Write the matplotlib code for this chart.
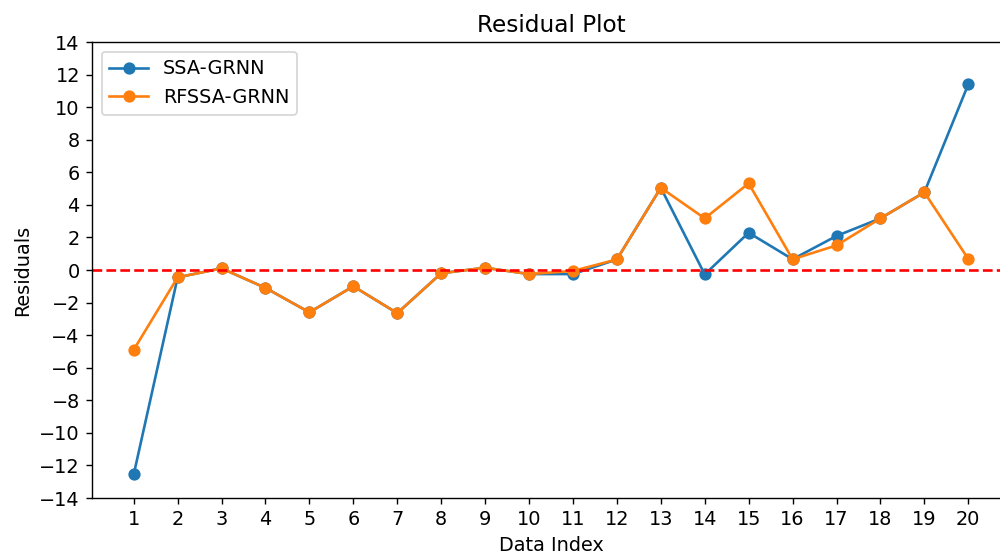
import numpy as np
import matplotlib
matplotlib.use("Agg")
import matplotlib.pyplot as plt

# residuals for each data index
data_index = list(range(1, 21))
ssa_grnn = [-12.55, -0.45, 0.1, -1.1, -2.6, -1.0, -2.65, -0.2, 0.14, -0.25,
            -0.25, 0.65, 5.05, -0.27, 2.29, 0.66, 2.09, 3.17, 4.77, 11.4]
rfssa_grnn = [-4.9, -0.45, 0.1, -1.1, -2.6, -1.0, -2.65, -0.2, 0.14, -0.25,
              -0.06, 0.65, 5.05, 3.17, 5.32, 0.66, 1.51, 3.17, 4.77, 0.68]
y_ticks = list(range(-14, 15, 2))

DPI = 126
plt.rcParams['font.size'] = 11
fig = plt.figure(figsize=(1000 / DPI, 556 / DPI), dpi=DPI)
# axes run slightly past the right edge of the canvas
axis = fig.add_axes([92 / 1000, 1 - 498 / 556, 918 / 1000, 456 / 556])

axis.plot(data_index, ssa_grnn, marker='o', label='SSA-GRNN')
axis.plot(data_index, rfssa_grnn, marker='o', label='RFSSA-GRNN')
axis.axhline(0, color='r', linestyle='--')

axis.set_xticks(data_index)
axis.set_yticks(y_ticks)
axis.set_ylim(-14, 14)
axis.set_title('Residual Plot', fontsize=13.2)
axis.set_xlabel('Data Index')
axis.set_ylabel('Residuals')
axis.legend(loc='upper left')

fig.savefig('out.png', dpi=DPI)
